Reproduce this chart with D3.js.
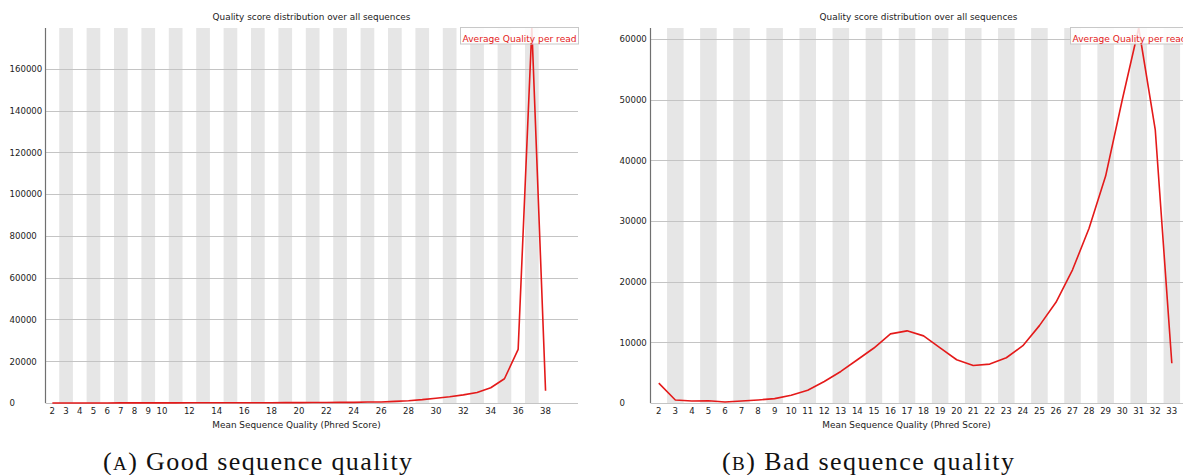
<!DOCTYPE html>
<html>
<head>
<meta charset="utf-8">
<script src="https://cdn.jsdelivr.net/npm/d3@7"></script>
<style>
  body { margin: 0; background: #fff; }
  svg { display: block; }
</style>
</head>
<body>
<div id="chart"></div>
<script>
// left panel: good sequence quality (Phred 2..38)
var goodScores = d3.range(2, 39);
var goodCounts = [20, 10, 15, 20, 30, 40, 50, 60, 70, 80, 90, 100, 110, 120, 130, 140, 150, 170,
    190, 210, 240, 280, 300, 500, 450, 800, 1100, 1600, 2300, 3000, 3900, 5000, 7300, 11600,
    25700, 179600, 5900];
var goodTickLabels = [2, 3, 4, 5, 6, 7, 8, 9, 10, 12, 14, 16, 18, 20, 22, 24, 26, 28, 30, 32, 34, 36, 38];
var goodYTicks = [0, 20000, 40000, 60000, 80000, 100000, 120000, 140000, 160000];

// right panel: bad sequence quality (Phred 2..33)
var badScores = d3.range(2, 34);
var badCounts = [3270, 500, 330, 380, 170, 330, 500, 720, 1270, 2100, 3540, 5200, 7130, 9060,
    11390, 11890, 11060, 9070, 7130, 6190, 6410, 7460, 9450, 12750, 16600, 21950, 28800,
    37400, 49900, 61800, 45000, 6550];
var badTickLabels = d3.range(2, 34);
var badYTicks = [0, 10000, 20000, 30000, 40000, 50000, 60000];

var TITLE = "Quality score distribution over all sequences",
    XLABEL = "Mean Sequence Quality (Phred Score)",
    LEGEND = "Average Quality per read";

var WIDTH = 1183, HEIGHT = 475;
var FONT = "DejaVu Sans, sans-serif";

var svg = d3.select("#chart").append("svg")
    .attr("width", WIDTH)
    .attr("height", HEIGHT);

function drawPanel(p) {
    var g = svg.append("g").attr("class", "panel");

    var x = d3.scaleBand()
        .domain(p.scores)
        .range([p.left, p.left + p.scores.length * p.band]);

    var y = d3.scaleLinear()
        .domain([0, d3.max(p.counts)])
        .range([p.bottom, p.top]);

    // alternating grey stripes
    g.selectAll("rect.stripe")
        .data(p.scores.filter(function (d, i) { return i % 2 == 1; }))
        .enter().append("rect")
        .attr("class", "stripe")
        .attr("x", function (d) { return x(d); })
        .attr("y", p.top)
        .attr("width", x.bandwidth())
        .attr("height", p.bottom - p.top)
        .attr("fill", "#e6e6e6");

    // horizontal grid
    g.selectAll("line.grid")
        .data(p.yTicks)
        .enter().append("line")
        .attr("class", "grid")
        .attr("x1", p.left)
        .attr("x2", p.right)
        .attr("y1", function (d) { return Math.round(y(d)) + 0.5; })
        .attr("y2", function (d) { return Math.round(y(d)) + 0.5; })
        .attr("stroke", "#c4c4c4")
        .attr("stroke-width", 1);

    // y labels, left aligned like fastqc does
    g.selectAll("text.ylab")
        .data(p.yTicks)
        .enter().append("text")
        .attr("class", "ylab")
        .attr("x", p.labelX)
        .attr("y", function (d) { return y(d); })
        .attr("dy", "0.38em")
        .attr("font-family", FONT)
        .attr("font-size", "8.6px")
        .attr("fill", "#222")
        .text(function (d) { return d; });

    // the data line
    var line = d3.line()
        .x(function (d, i) { return x(p.scores[i]) + x.bandwidth() / 2; })
        .y(function (d) { return y(d); });

    g.append("path")
        .datum(p.counts)
        .attr("d", line)
        .attr("fill", "none")
        .attr("stroke", "#e41a1a")
        .attr("stroke-width", 1.6)
        .attr("stroke-linejoin", "round");

    // y axis line
    g.append("line")
        .attr("x1", p.left).attr("x2", p.left)
        .attr("y1", p.top).attr("y2", p.bottom)
        .attr("stroke", "#707070")
        .attr("stroke-width", 1.2);

    // x tick labels
    g.selectAll("text.xlab")
        .data(p.xTicks)
        .enter().append("text")
        .attr("class", "xlab")
        .attr("x", function (d) { return x(d) + x.bandwidth() / 2; })
        .attr("y", p.bottom + 11)
        .attr("text-anchor", "middle")
        .attr("font-family", FONT)
        .attr("font-size", "8.6px")
        .attr("fill", "#222")
        .text(function (d) { return d; });

    // title
    g.append("text")
        .attr("x", p.titleX)
        .attr("y", 20)
        .attr("text-anchor", "middle")
        .attr("font-family", FONT)
        .attr("font-size", "8.9px")
        .attr("fill", "#222")
        .text(TITLE);

    // x axis title
    g.append("text")
        .attr("x", p.xlabelX)
        .attr("y", 428)
        .attr("text-anchor", "middle")
        .attr("font-family", FONT)
        .attr("font-size", "8.9px")
        .attr("fill", "#222")
        .text(XLABEL);

    // legend box
    var leg = g.append("g").attr("transform", "translate(" + p.legendX + ",27.5)");
    leg.append("rect")
        .attr("width", 118)
        .attr("height", 16.5)
        .attr("fill", "#fff")
        .attr("fill-opacity", 0.85)
        .attr("stroke", "#c8c8c8")
        .attr("stroke-width", 1);
    leg.append("text")
        .attr("x", 2)
        .attr("y", 14)
        .attr("font-family", FONT)
        .attr("font-size", "9.1px")
        .attr("fill", "#e41a1a")
        .text(LEGEND);

    // caption under the chart
    var cap = g.append("text")
        .attr("x", p.capX)
        .attr("y", 470)
        .attr("font-family", "Liberation Serif, serif")
        .attr("font-size", "26px")
        .attr("fill", "#111")
        .attr("textLength", p.capLen)
        .attr("lengthAdjust", "spacing");
    cap.append("tspan").text("(");
    cap.append("tspan").attr("font-size", "19px").text(p.capLetter);
    cap.append("tspan").text(") " + p.caption);
}

drawPanel({
    scores: goodScores, counts: goodCounts, xTicks: goodTickLabels, yTicks: goodYTicks,
    left: 45.5, right: 578, top: 28, bottom: 403, band: 13.7,
    labelX: 9.5, titleX: 311.5, xlabelX: 296.5, legendX: 460.5,
    capX: 103, capLen: 309, capLetter: "A", caption: "Good sequence quality"
});

drawPanel({
    scores: badScores, counts: badCounts, xTicks: badTickLabels, yTicks: badYTicks,
    left: 650.5, right: 1190, top: 28, bottom: 403, band: 16.55,
    labelX: 619.5, titleX: 918.5, xlabelX: 906.5, legendX: 1070.5,
    capX: 722, capLen: 292, capLetter: "B", caption: "Bad sequence quality"
});
</script>
</body>
</html>
